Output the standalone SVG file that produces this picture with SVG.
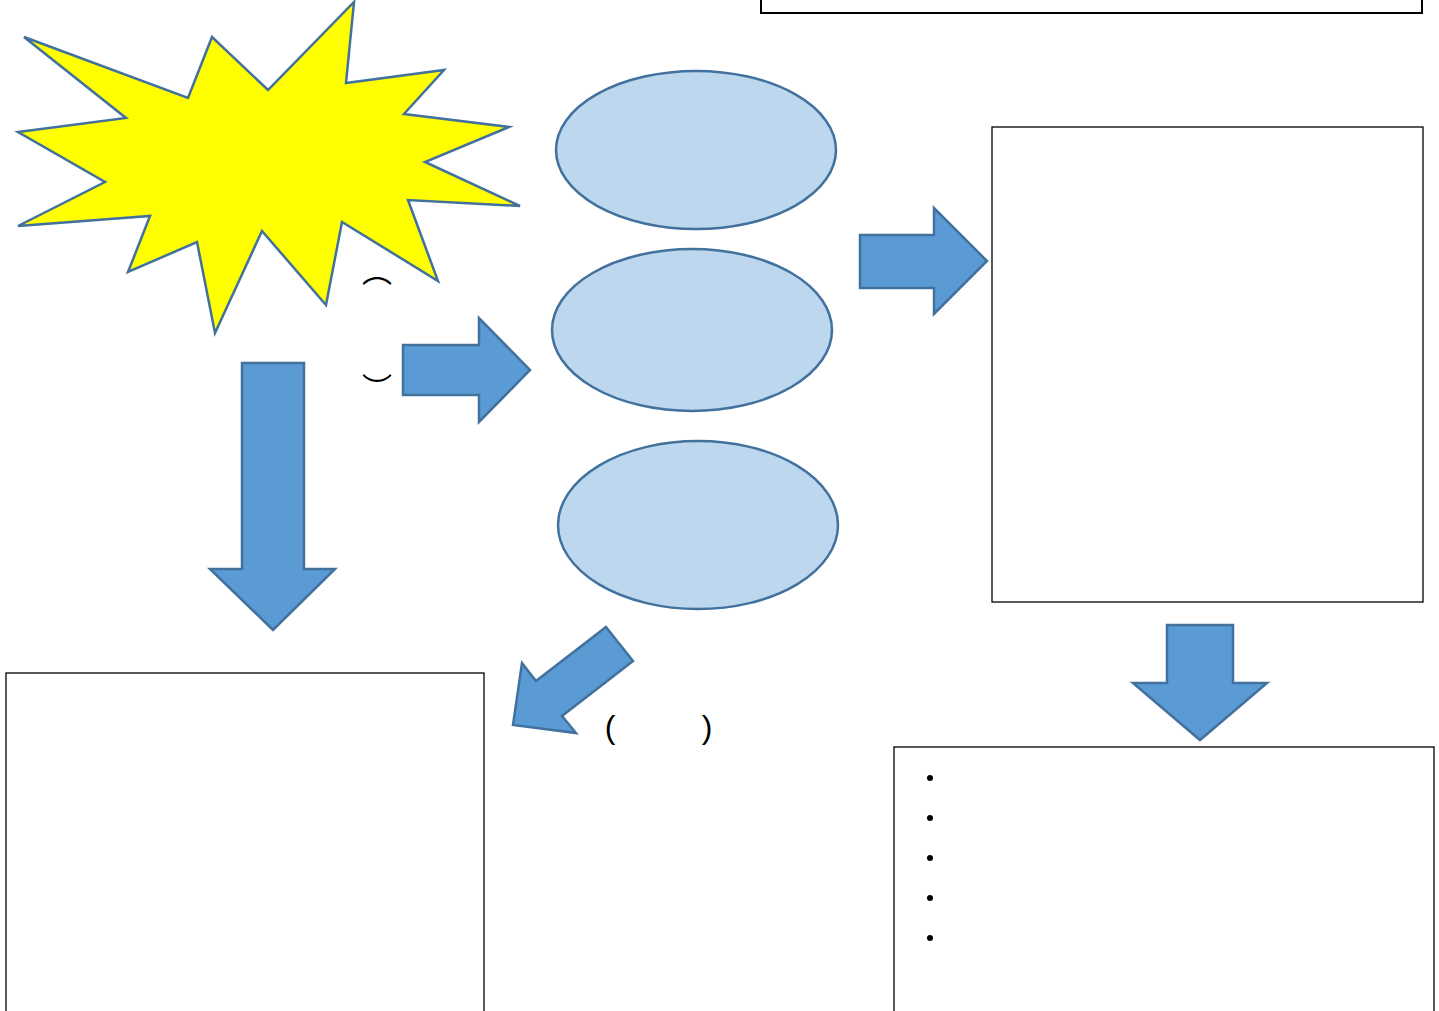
<svg xmlns="http://www.w3.org/2000/svg" width="1439" height="1011" viewBox="0 0 1439 1011">
<style>
.arrow{fill:#5B9BD5;stroke:#41719C;stroke-width:2.5;stroke-linejoin:miter}
.ell{fill:#BDD7EE;stroke:#41719C;stroke-width:2.5}
.box{fill:#FFFFFF;stroke:#000000;stroke-width:1.3}
.t{font-family:"Noto Sans CJK JP","Liberation Sans",sans-serif;fill:#000}
</style>
<rect width="1439" height="1011" fill="#FFFFFF"/>
<g id="title-box"><rect x="761" y="-10" width="661" height="23" fill="#FFFFFF" stroke="#000" stroke-width="2"/></g>
<g id="starburst">
<polygon points="24,37 188,98 212,37 268,90 354,2 346,83 444,70 404,114 509,127 425,162 520,206 408,200 438,281 342,222 326,305 262,231 215,333 197,242 128,272 150,216 18,226 105,182 18,132 126,118" fill="#FFFF00" stroke="#41719C" stroke-width="2.5" stroke-linejoin="miter"/>
</g>
<g id="ellipse-1"><ellipse class="ell" cx="696" cy="150" rx="140" ry="79"/></g>
<g id="ellipse-2"><ellipse class="ell" cx="692" cy="330" rx="140" ry="81"/></g>
<g id="ellipse-3"><ellipse class="ell" cx="698" cy="525" rx="140" ry="84"/></g>
<g id="box-right"><rect class="box" x="992" y="127" width="431" height="475"/></g>
<g id="box-bottom-left"><rect class="box" x="6" y="673" width="478" height="345"/></g>
<g id="box-bottom-right"><rect class="box" x="894" y="747" width="540" height="270"/>
<g fill="#000"><circle cx="930" cy="778" r="3"/><circle cx="930" cy="818" r="3"/><circle cx="930" cy="858" r="3"/><circle cx="930" cy="898" r="3"/><circle cx="930" cy="938" r="3"/></g>
</g>
<g id="connectors">
<polygon class="arrow" points="403,345 479,345 479,318 530,370 479,422 479,395 403,395"/>
<polygon class="arrow" points="860,235 934,235 934,208 987,261 934,314 934,288 860,288"/>
<polygon class="arrow" points="242,363 304,363 304,569 335,569 273,630 210,569 242,569"/>
<polygon class="arrow" points="1167,625 1233,625 1233,683 1267,683 1200,740 1133,683 1167,683"/>
<polygon class="arrow" points="606,627 633,661 562,716 576,733 513,725 522,663 536,681"/>
</g>
<g id="labels">
<text class="t" x="377" y="282" font-size="30" text-anchor="middle">︵</text>
<text class="t" x="377" y="399" font-size="30" text-anchor="middle">︶</text>
<text x="610" y="738" font-family="Liberation Sans,sans-serif" font-size="32" text-anchor="middle">(</text>
<text x="707" y="738" font-family="Liberation Sans,sans-serif" font-size="32" text-anchor="middle">)</text>
</g>
</svg>
